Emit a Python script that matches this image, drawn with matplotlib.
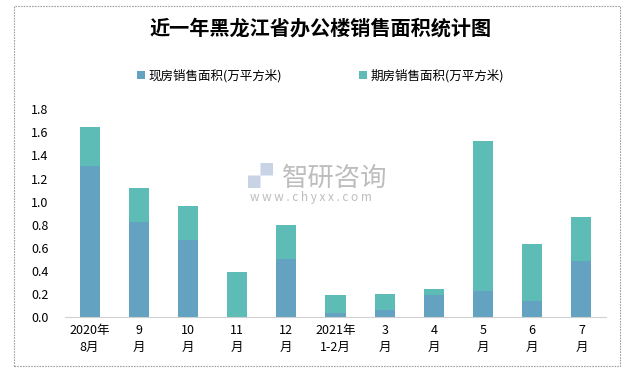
import numpy as np
import matplotlib.pyplot as plt
from matplotlib.patches import Rectangle

plt.rcParams['font.family'] = ['Noto Sans CJK SC', 'DejaVu Sans']

months = ["2020年\n8月", "9\n月", "10\n月", "11\n月", "12\n月", "2021年\n1-2月",
          "3\n月", "4\n月", "5\n月", "6\n月", "7\n月"]
xianfang = [1.31, 0.825, 0.667, 0.0, 0.502, 0.037, 0.063, 0.19, 0.225, 0.139, 0.485]
qifang = [0.335, 0.292, 0.294, 0.39, 0.295, 0.153, 0.136, 0.052, 1.299, 0.493, 0.381]
yticks = [0.0, 0.2, 0.4, 0.6, 0.8, 1.0, 1.2, 1.4, 1.6, 1.8]

c_low = "#63A2C1"
c_up = "#5DBCB5"

fig = plt.figure(figsize=(6.41, 3.72), dpi=100)
ax = fig.add_axes([65 / 641, 55 / 372, 541 / 641, 207.7 / 372])

# chart border
fig.patches.append(Rectangle((14 / 641, 6 / 372), 606 / 641, 360 / 372,
                             transform=fig.transFigure, fill=False,
                             edgecolor="#A0A0A0", linewidth=0.8,
                             linestyle=(0, (1.5, 1))))

x = np.arange(len(months))
ax.bar(x, xianfang, width=0.41, color=c_low, label="现房销售面积(万平方米)")
ax.bar(x, qifang, width=0.41, bottom=xianfang, color=c_up, label="期房销售面积(万平方米)")

ax.set_xlim(-0.5, len(months) - 0.5)
ax.set_ylim(0, 1.8)
ax.set_yticks(yticks)
ax.set_yticklabels([f"{v:.1f}" for v in yticks], fontsize=9)
ax.set_xticks(x)
ax.set_xticklabels(months, fontsize=9, linespacing=1.35)
ax.tick_params(axis="both", length=0, colors="black")
ax.tick_params(axis="y", pad=12)
ax.tick_params(axis="x", pad=5)
for s in ["top", "right", "left"]:
    ax.spines[s].set_visible(False)
ax.spines["bottom"].set_color("#D0D0D0")

fig.text(0.5, 1 - 28 / 372, "近一年黑龙江省办公楼销售面积统计图", ha="center", va="center",
         fontsize=14.5, fontweight="bold")

fig.legend(loc="center", bbox_to_anchor=(0.5, 1 - 76 / 372), ncol=2, frameon=False,
           fontsize=9, handlelength=0.6, handleheight=0.6, handletextpad=0.3,
           columnspacing=6.2)

# watermark
fig.text(273 / 641, 1 - 178 / 372, "▞", fontsize=18, color="#C8D4E6", ha="right", va="center")
fig.text(282 / 641, 1 - 178 / 372, "智研咨询", fontsize=19, color="#BDBDBD", ha="left", va="center")
fig.text(250 / 641, 1 - 198 / 372, "w w w . c h y x x . c o m", fontsize=8.5, color="#BDBDBD",
         ha="left", va="center")

fig.savefig("out.png", dpi=100)
